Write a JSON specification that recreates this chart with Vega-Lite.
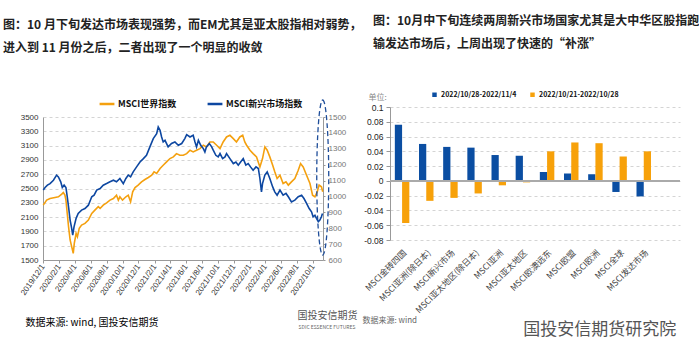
{
  "$schema": "https://vega.github.io/schema/vega-lite/v6.json",
  "background": "white",
  "padding": {"left": 3, "top": 15, "right": 0, "bottom": 12},
  "config": {
    "view": {"stroke": null},
    "font": "Noto Sans CJK SC",
    "axis": {"labelFont": "Liberation Sans Narrow, Liberation Sans, sans-serif", "titleFont": "Noto Sans CJK SC", "labelOverlap": false}
  },
  "resolve": {"scale": {"color": "independent"}, "legend": {"color": "independent"}},
  "title": {"text": "国投安信期货研究院", "orient": "bottom", "anchor": "end", "frame": "bounds", "fontSize": 17, "fontWeight": "normal", "color": "#555555", "font": "Noto Sans CJK SC", "offset": -7, "dx": -23},
  "datasets": {
    "world": [
      {"d": "2019/12/02", "v": 2268}, {"d": "2019/12/15", "v": 2337}, {"d": "2019/12/28", "v": 2360}, {"d": "2020/01/16", "v": 2375},
      {"d": "2020/01/29", "v": 2384}, {"d": "2020/02/11", "v": 2421}, {"d": "2020/02/17", "v": 2444}, {"d": "2020/02/23", "v": 2407},
      {"d": "2020/02/27", "v": 2337}, {"d": "2020/03/03", "v": 2150}, {"d": "2020/03/08", "v": 1965}, {"d": "2020/03/14", "v": 1780},
      {"d": "2020/03/20", "v": 1687}, {"d": "2020/03/26", "v": 1593}, {"d": "2020/03/30", "v": 1733}, {"d": "2020/04/06", "v": 1872},
      {"d": "2020/04/11", "v": 1826}, {"d": "2020/04/18", "v": 1942}, {"d": "2020/04/27", "v": 1989}, {"d": "2020/05/10", "v": 2012},
      {"d": "2020/05/23", "v": 2058}, {"d": "2020/06/05", "v": 2152}, {"d": "2020/06/17", "v": 2198}, {"d": "2020/06/30", "v": 2245},
      {"d": "2020/07/07", "v": 2221}, {"d": "2020/07/19", "v": 2268}, {"d": "2020/08/01", "v": 2300}, {"d": "2020/08/14", "v": 2337},
      {"d": "2020/08/27", "v": 2360}, {"d": "2020/09/08", "v": 2407}, {"d": "2020/09/15", "v": 2337}, {"d": "2020/09/21", "v": 2384},
      {"d": "2020/10/01", "v": 2337}, {"d": "2020/10/14", "v": 2384}, {"d": "2020/10/23", "v": 2407}, {"d": "2020/11/01", "v": 2314},
      {"d": "2020/11/09", "v": 2454}, {"d": "2020/11/18", "v": 2514}, {"d": "2020/11/30", "v": 2547}, {"d": "2020/12/13", "v": 2593},
      {"d": "2020/12/26", "v": 2626}, {"d": "2021/01/08", "v": 2654}, {"d": "2021/01/21", "v": 2686}, {"d": "2021/01/30", "v": 2733},
      {"d": "2021/02/09", "v": 2710}, {"d": "2021/02/22", "v": 2779}, {"d": "2021/03/06", "v": 2826}, {"d": "2021/03/19", "v": 2872},
      {"d": "2021/04/01", "v": 2919}, {"d": "2021/04/14", "v": 2942}, {"d": "2021/04/26", "v": 2988}, {"d": "2021/05/09", "v": 2965},
      {"d": "2021/05/22", "v": 2965}, {"d": "2021/06/04", "v": 2988}, {"d": "2021/06/17", "v": 3035}, {"d": "2021/06/29", "v": 3012},
      {"d": "2021/07/12", "v": 3035}, {"d": "2021/07/25", "v": 3058}, {"d": "2021/08/07", "v": 3105}, {"d": "2021/08/19", "v": 3082},
      {"d": "2021/09/01", "v": 3151}, {"d": "2021/09/14", "v": 3151}, {"d": "2021/09/27", "v": 3105}, {"d": "2021/10/10", "v": 3058},
      {"d": "2021/10/22", "v": 3151}, {"d": "2021/11/04", "v": 3221}, {"d": "2021/11/17", "v": 3244}, {"d": "2021/11/30", "v": 3198},
      {"d": "2021/12/12", "v": 3151}, {"d": "2021/12/25", "v": 3221}, {"d": "2022/01/05", "v": 3244}, {"d": "2022/01/13", "v": 3151},
      {"d": "2022/01/20", "v": 3105}, {"d": "2022/02/02", "v": 3035}, {"d": "2022/02/14", "v": 2988}, {"d": "2022/02/27", "v": 2942},
      {"d": "2022/03/12", "v": 2802}, {"d": "2022/03/22", "v": 2919}, {"d": "2022/03/31", "v": 3082}, {"d": "2022/04/09", "v": 3035},
      {"d": "2022/04/19", "v": 2942}, {"d": "2022/04/30", "v": 2826}, {"d": "2022/05/08", "v": 2733}, {"d": "2022/05/17", "v": 2640},
      {"d": "2022/05/28", "v": 2686}, {"d": "2022/06/09", "v": 2570}, {"d": "2022/06/20", "v": 2593}, {"d": "2022/06/29", "v": 2547},
      {"d": "2022/07/11", "v": 2593}, {"d": "2022/07/24", "v": 2640}, {"d": "2022/08/06", "v": 2756}, {"d": "2022/08/15", "v": 2849},
      {"d": "2022/08/25", "v": 2802}, {"d": "2022/09/07", "v": 2686}, {"d": "2022/09/20", "v": 2570}, {"d": "2022/09/30", "v": 2407},
      {"d": "2022/10/09", "v": 2384}, {"d": "2022/10/18", "v": 2454}, {"d": "2022/10/25", "v": 2547}, {"d": "2022/11/03", "v": 2524},
      {"d": "2022/11/08", "v": 2454}
    ],
    "em": [
      {"d": "2019/12/02", "v": 1040}, {"d": "2019/12/09", "v": 1056}, {"d": "2019/12/18", "v": 1071}, {"d": "2019/12/28", "v": 1081},
      {"d": "2020/01/10", "v": 1102}, {"d": "2020/01/22", "v": 1134}, {"d": "2020/01/29", "v": 1123}, {"d": "2020/02/07", "v": 1092},
      {"d": "2020/02/13", "v": 1056}, {"d": "2020/02/20", "v": 1071}, {"d": "2020/02/27", "v": 1056}, {"d": "2020/03/03", "v": 998},
      {"d": "2020/03/08", "v": 935}, {"d": "2020/03/14", "v": 851}, {"d": "2020/03/20", "v": 799}, {"d": "2020/03/24", "v": 757},
      {"d": "2020/03/29", "v": 809}, {"d": "2020/04/06", "v": 862}, {"d": "2020/04/14", "v": 893}, {"d": "2020/04/27", "v": 914},
      {"d": "2020/05/10", "v": 924}, {"d": "2020/05/23", "v": 945}, {"d": "2020/06/05", "v": 998}, {"d": "2020/06/14", "v": 1008},
      {"d": "2020/06/24", "v": 1040}, {"d": "2020/07/07", "v": 1050}, {"d": "2020/07/19", "v": 1071}, {"d": "2020/08/01", "v": 1081},
      {"d": "2020/08/14", "v": 1092}, {"d": "2020/08/27", "v": 1102}, {"d": "2020/09/08", "v": 1092}, {"d": "2020/09/21", "v": 1113},
      {"d": "2020/10/04", "v": 1081}, {"d": "2020/10/14", "v": 1113}, {"d": "2020/10/23", "v": 1134}, {"d": "2020/11/01", "v": 1123},
      {"d": "2020/11/11", "v": 1155}, {"d": "2020/11/24", "v": 1186}, {"d": "2020/12/07", "v": 1217}, {"d": "2020/12/20", "v": 1238},
      {"d": "2021/01/01", "v": 1259}, {"d": "2021/01/14", "v": 1312}, {"d": "2021/01/27", "v": 1364}, {"d": "2021/02/09", "v": 1395},
      {"d": "2021/02/15", "v": 1437}, {"d": "2021/02/22", "v": 1416}, {"d": "2021/02/28", "v": 1374}, {"d": "2021/03/06", "v": 1343},
      {"d": "2021/03/13", "v": 1353}, {"d": "2021/03/25", "v": 1312}, {"d": "2021/04/07", "v": 1333}, {"d": "2021/04/20", "v": 1343},
      {"d": "2021/05/03", "v": 1322}, {"d": "2021/05/16", "v": 1333}, {"d": "2021/05/28", "v": 1364}, {"d": "2021/06/04", "v": 1389},
      {"d": "2021/06/17", "v": 1374}, {"d": "2021/06/29", "v": 1385}, {"d": "2021/07/06", "v": 1343}, {"d": "2021/07/12", "v": 1312},
      {"d": "2021/07/19", "v": 1353}, {"d": "2021/07/28", "v": 1322}, {"d": "2021/08/07", "v": 1301}, {"d": "2021/08/13", "v": 1280},
      {"d": "2021/08/19", "v": 1312}, {"d": "2021/08/30", "v": 1333}, {"d": "2021/09/08", "v": 1312}, {"d": "2021/09/14", "v": 1291},
      {"d": "2021/09/24", "v": 1259}, {"d": "2021/10/03", "v": 1249}, {"d": "2021/10/10", "v": 1270}, {"d": "2021/10/20", "v": 1238},
      {"d": "2021/10/29", "v": 1249}, {"d": "2021/11/04", "v": 1270}, {"d": "2021/11/17", "v": 1238}, {"d": "2021/11/30", "v": 1207},
      {"d": "2021/12/10", "v": 1217}, {"d": "2021/12/19", "v": 1197}, {"d": "2021/12/28", "v": 1217}, {"d": "2022/01/07", "v": 1238},
      {"d": "2022/01/17", "v": 1197}, {"d": "2022/01/26", "v": 1207}, {"d": "2022/02/04", "v": 1186}, {"d": "2022/02/14", "v": 1165},
      {"d": "2022/02/25", "v": 1186}, {"d": "2022/03/06", "v": 1176}, {"d": "2022/03/12", "v": 1113}, {"d": "2022/03/18", "v": 1029},
      {"d": "2022/03/22", "v": 1081}, {"d": "2022/03/31", "v": 1134}, {"d": "2022/04/09", "v": 1155}, {"d": "2022/04/19", "v": 1113},
      {"d": "2022/04/30", "v": 1060}, {"d": "2022/05/08", "v": 1029}, {"d": "2022/05/17", "v": 1008}, {"d": "2022/05/28", "v": 1040},
      {"d": "2022/06/09", "v": 1008}, {"d": "2022/06/20", "v": 1019}, {"d": "2022/06/29", "v": 998}, {"d": "2022/07/11", "v": 966},
      {"d": "2022/07/24", "v": 977}, {"d": "2022/08/06", "v": 998}, {"d": "2022/08/19", "v": 1008}, {"d": "2022/08/28", "v": 987},
      {"d": "2022/09/07", "v": 956}, {"d": "2022/09/17", "v": 924}, {"d": "2022/09/26", "v": 903}, {"d": "2022/10/02", "v": 872},
      {"d": "2022/10/09", "v": 882}, {"d": "2022/10/15", "v": 862}, {"d": "2022/10/22", "v": 841}, {"d": "2022/10/28", "v": 851},
      {"d": "2022/11/03", "v": 872}, {"d": "2022/11/07", "v": 893}
    ],
    "bars": [
      {"cat": "MSCI金砖四国", "p": "2022/10/28-2022/11/4", "v": 0.076}, {"cat": "MSCI金砖四国", "p": "2022/10/21-2022/10/28", "v": -0.057},
      {"cat": "MSCI亚洲(除日本)", "p": "2022/10/28-2022/11/4", "v": 0.050}, {"cat": "MSCI亚洲(除日本)", "p": "2022/10/21-2022/10/28", "v": -0.027},
      {"cat": "MSCI新兴市场", "p": "2022/10/28-2022/11/4", "v": 0.046}, {"cat": "MSCI新兴市场", "p": "2022/10/21-2022/10/28", "v": -0.023},
      {"cat": "MSCI亚太地区(除日本)", "p": "2022/10/28-2022/11/4", "v": 0.045}, {"cat": "MSCI亚太地区(除日本)", "p": "2022/10/21-2022/10/28", "v": -0.017},
      {"cat": "MSCI亚洲", "p": "2022/10/28-2022/11/4", "v": 0.035}, {"cat": "MSCI亚洲", "p": "2022/10/21-2022/10/28", "v": -0.006},
      {"cat": "MSCI亚太地区", "p": "2022/10/28-2022/11/4", "v": 0.034}, {"cat": "MSCI亚太地区", "p": "2022/10/21-2022/10/28", "v": -0.002},
      {"cat": "MSCI欧澳远东", "p": "2022/10/28-2022/11/4", "v": 0.012}, {"cat": "MSCI欧澳远东", "p": "2022/10/21-2022/10/28", "v": 0.040},
      {"cat": "MSCI欧盟", "p": "2022/10/28-2022/11/4", "v": 0.010}, {"cat": "MSCI欧盟", "p": "2022/10/21-2022/10/28", "v": 0.052},
      {"cat": "MSCI欧洲", "p": "2022/10/28-2022/11/4", "v": 0.009}, {"cat": "MSCI欧洲", "p": "2022/10/21-2022/10/28", "v": 0.051},
      {"cat": "MSCI全球", "p": "2022/10/28-2022/11/4", "v": -0.015}, {"cat": "MSCI全球", "p": "2022/10/21-2022/10/28", "v": 0.033},
      {"cat": "MSCI发达市场", "p": "2022/10/28-2022/11/4", "v": -0.021}, {"cat": "MSCI发达市场", "p": "2022/10/21-2022/10/28", "v": 0.040}
    ]
  },
  "bounds": "flush",
  "spacing": 67,
  "hconcat": [
    {
      "width": 280,
      "height": 153,
      "title": {
        "text": ["图：10 月下旬发达市场表现强势，而EM尤其是亚太股指相对弱势，", "进入到 11 月份之后，二者出现了一个明显的收敛"],
        "anchor": "start", "frame": "group", "dx": -40, "offset": 40,
        "fontSize": 12, "fontWeight": "bold", "lineHeight": 23, "color": "#222222", "font": "Noto Sans CJK SC"
      },
      "layer": [
        {
          "layer": [
            {
              "data": {"name": "world"},
              "mark": {"type": "line", "strokeWidth": 1.6},
              "encoding": {
                "x": {
                  "field": "d", "type": "temporal",
                  "scale": {"domain": [{"year": 2019, "month": 12, "date": 1}, {"year": 2022, "month": 11, "date": 9}]},
                  "axis": {
                    "values": [
                      {"year": 2019, "month": 12, "date": 1}, {"year": 2020, "month": 2, "date": 1}, {"year": 2020, "month": 4, "date": 1},
                      {"year": 2020, "month": 6, "date": 1}, {"year": 2020, "month": 8, "date": 1}, {"year": 2020, "month": 10, "date": 1},
                      {"year": 2020, "month": 12, "date": 1}, {"year": 2021, "month": 2, "date": 1}, {"year": 2021, "month": 4, "date": 1},
                      {"year": 2021, "month": 6, "date": 1}, {"year": 2021, "month": 8, "date": 1}, {"year": 2021, "month": 10, "date": 1},
                      {"year": 2021, "month": 12, "date": 1}, {"year": 2022, "month": 2, "date": 1}, {"year": 2022, "month": 4, "date": 1},
                      {"year": 2022, "month": 6, "date": 1}, {"year": 2022, "month": 8, "date": 1}, {"year": 2022, "month": 10, "date": 1}
                    ],
                    "tickCount": 40,
                    "format": "%Y/%-m/%-d", "labelAngle": -55, "labelFontSize": 8, "labelColor": "#333333", "labelPadding": 2,
                    "labelOverlap": false, "labelBound": false, "labelFlush": false,
                    "tickSize": 3, "tickColor": "#999999", "domainColor": "#999999", "grid": false,
                    "title": "数据来源: wind, 国投安信期货", "titleX": -18, "titleY": 62, "titleAlign": "left", "titleAnchor": "start",
                    "titleBaseline": "middle", "titleFontSize": 10, "titleFontWeight": "normal", "titleColor": "#000000"
                  }
                },
                "y": {
                  "field": "v", "type": "quantitative",
                  "scale": {"domain": [1500, 3500], "range": [153, 10], "zero": false, "nice": false},
                  "axis": {
                    "values": [1500, 1700, 1900, 2100, 2300, 2500, 2700, 2900, 3100, 3300, 3500],
                    "tickCount": 40,
                    "format": "d", "labelOverlap": false, "labelFlush": false,
                    "grid": true, "gridDash": [3, 3], "gridColor": "#d4d4d4", "ticks": false, "labelPadding": 5,
                    "labelFontSize": 8, "labelColor": "#333333", "domainColor": "#999999",
                    "title": "SDIC ESSENCE FUTURES", "titleAngle": 0, "titleX": 255, "titleY": 219, "titleAlign": "left",
                    "titleBaseline": "middle", "titleFontSize": 5, "titleFontWeight": "normal", "titleColor": "#666666"
                  }
                },
                "color": {
                  "datum": "MSCI世界指数",
                  "scale": {"domain": ["MSCI世界指数", "MSCI新兴市场指数"], "range": ["#F4A00F", "#0D47A1"]},
                  "legend": {
                    "orient": "none", "legendX": 55, "legendY": -12, "direction": "horizontal", "title": null,
                    "symbolType": "stroke", "symbolStrokeWidth": 2.5, "symbolSize": 220, "labelFontSize": 9,
                    "labelFontWeight": "bold", "labelColor": "#111111", "columnPadding": 25, "labelOffset": 2, "labelFont": "Noto Sans CJK SC"
                  }
                }
              }
            },
            {
              "data": {"values": [{"d": "2022/11/08", "v": 2654}]},
              "mark": {
                "type": "point",
                "shape": "M0,-1 C0.0427,-1 0.0774,-0.552 0.0774,0 C0.0774,0.552 0.0427,1 0,1 C-0.0427,1 -0.0774,0.552 -0.0774,0 C-0.0774,-0.552 -0.0427,-1 0,-1 Z",
                "size": 24025, "filled": false, "stroke": "#1F4E9A", "strokeWidth": 1.3, "strokeDash": [5, 3], "opacity": 1
              },
              "encoding": {
                "x": {"field": "d", "type": "temporal"},
                "y": {"field": "v", "type": "quantitative"}
              }
            }
          ]
        },
        {
          "data": {"name": "em"},
          "mark": {"type": "line", "strokeWidth": 1.6},
          "encoding": {
            "x": {"field": "d", "type": "temporal"},
            "y": {
              "field": "v", "type": "quantitative",
              "scale": {"domain": [600, 1500], "range": [153, 10], "zero": false, "nice": false},
              "axis": {
                "orient": "right",
                "values": [600, 700, 800, 900, 1000, 1100, 1200, 1300, 1400, 1500],
                "tickCount": 40,
                "format": "d", "labelOverlap": false, "labelFlush": false,
                "grid": false, "tickSize": 2, "tickColor": "#999999", "labelPadding": 3,
                "labelFontSize": 8, "labelColor": "#777777", "domainColor": "#999999",
                "title": "国投安信期货", "titleAngle": 0, "titleX": -26, "titleY": 208, "titleAlign": "left",
                "titleBaseline": "middle", "titleFontSize": 10, "titleFontWeight": "normal", "titleColor": "#555555"
              }
            },
            "color": {"datum": "MSCI新兴市场指数"}
          }
        }
      ],
      "resolve": {"scale": {"y": "independent"}}
    },
    {
      "width": 290,
      "height": 133,
      "title": {
        "text": ["图：10月中下旬连续两周新兴市场国家尤其是大中华区股指跑", "输发达市场后，上周出现了快速的“补涨”"],
        "anchor": "start", "frame": "group", "dx": -17, "offset": 40,
        "fontSize": 12, "fontWeight": "bold", "lineHeight": 23, "color": "#222222", "font": "Noto Sans CJK SC"
      },
      "data": {"name": "bars"},
      "layer": [
        {
          "mark": {"type": "bar"},
          "encoding": {
            "x": {
              "field": "cat", "type": "nominal",
              "scale": {
                "domain": ["MSCI金砖四国", "MSCI亚洲(除日本)", "MSCI新兴市场", "MSCI亚太地区(除日本)", "MSCI亚洲", "MSCI亚太地区", "MSCI欧澳远东", "MSCI欧盟", "MSCI欧洲", "MSCI全球", "MSCI发达市场", " "],
                "paddingInner": 0.4, "paddingOuter": 0.2
              },
              "axis": {
                "labelAngle": -45, "labelFontSize": 8.5, "labelColor": "#444444", "labelPadding": 8, "labelLimit": 200,
                "labelFont": "Noto Sans CJK SC", "domain": false, "ticks": false, "labelOverlap": false,
                "title": "数据来源: wind", "titleX": -28, "titleY": 80, "titleAlign": "left", "titleAnchor": "start",
                "titleBaseline": "middle", "titleFontSize": 8, "titleFontWeight": "normal", "titleColor": "#666666"
              }
            },
            "xOffset": {"field": "p", "type": "nominal", "sort": ["2022/10/28-2022/11/4", "2022/10/21-2022/10/28"]},
            "y": {
              "field": "v", "type": "quantitative",
              "scale": {"domain": [-0.08, 0.1], "nice": false, "zero": false},
              "axis": {
                "values": [-0.08, -0.06, -0.04, -0.02, 0, 0.02, 0.04, 0.06, 0.08, 0.1],
                "tickCount": 40,
                "labelExpr": "toString(round(datum.value * 100) / 100)",
                "labelOverlap": false, "labelFlush": false,
                "grid": true, "gridDash": [3, 3], "gridColor": "#d4d4d4", "tickSize": 4, "tickColor": "#999999",
                "labelFontSize": 8.5, "labelColor": "#222222", "domainColor": "#999999", "labelPadding": 3,
                "title": "单位:", "titleAngle": 0, "titleX": -22, "titleY": -10, "titleAlign": "left", "titleBaseline": "middle",
                "titleFontSize": 8, "titleFontWeight": "normal", "titleColor": "#888888"
              }
            },
            "color": {
              "field": "p", "type": "nominal",
              "scale": {"domain": ["2022/10/28-2022/11/4", "2022/10/21-2022/10/28"], "range": ["#0B4EA2", "#F7A10A"]},
              "legend": {
                "orient": "none", "legendX": 41, "legendY": -16, "direction": "horizontal", "title": null,
                "symbolType": "square", "symbolSize": 20, "labelFontSize": 7, "labelFontWeight": "bold",
                "labelColor": "#111111", "columnPadding": 12, "labelOffset": 3
              }
            }
          }
        },
        {
          "mark": {"type": "rule", "color": "#aaaaaa", "strokeWidth": 1},
          "encoding": {"y": {"datum": 0}}
        }
      ]
    }
  ]
}
